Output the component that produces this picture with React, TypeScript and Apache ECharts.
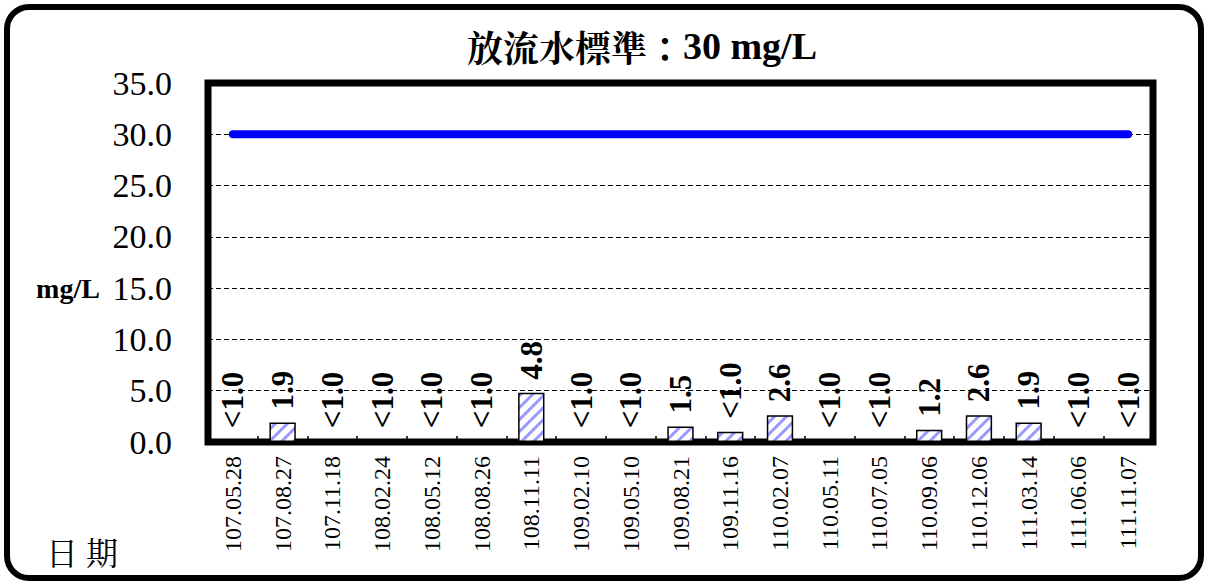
import React, { useEffect, useRef } from "react";
import * as echarts from "echarts";

const categories = ["107.05.28","107.08.27","107.11.18","108.02.24","108.05.12","108.08.26","108.11.11","109.02.10","109.05.10","109.08.21","109.11.16","110.02.07","110.05.11","110.07.05","110.09.06","110.12.06","111.03.14","111.06.06","111.11.07"];
const values = [0, 1.9, 0, 0, 0, 0, 4.8, 0, 0, 1.5, 1.0, 2.6, 0, 0, 1.2, 2.6, 1.9, 0, 0];
const valueLabels = ["<1.0","1.9","<1.0","<1.0","<1.0","<1.0","4.8","<1.0","<1.0","1.5","<1.0","2.6","<1.0","<1.0","1.2","2.6","1.9","<1.0","<1.0"];
const standard = 30;
const standardLine = categories.map(() => standard);
const yMin = 0;
const yMax = 35;
const yInterval = 5;

const SERIF = "'Liberation Serif', 'Times New Roman', serif";
const CJK = "'Noto Serif CJK TC', 'Noto Sans CJK TC', 'Noto Sans CJK SC', sans-serif";

function makeHatch(): string {
  const size = 12;
  const c = document.createElement("canvas");
  c.width = size;
  c.height = size;
  const ctx = c.getContext("2d");
  if (!ctx) return "";
  ctx.fillStyle = "#ffffff";
  ctx.fillRect(0, 0, size, size);
  for (let x = 0; x < size; x++) {
    for (let y = 0; y < size; y++) {
      const k = (x + y) % size;
      if (k < 5) {
        ctx.fillStyle = k === 0 || k === 4 ? "#c4c4ff" : "#9898ff";
        ctx.fillRect(x, y, 1, 1);
      }
    }
  }
  return c.toDataURL();
}

export default function App() {
  const ref = useRef<HTMLDivElement>(null);
  useEffect(() => {
    if (!ref.current) return;
    const chart = echarts.init(ref.current, null, { renderer: "svg" });
    const hatch = makeHatch();
    chart.setOption({
      animation: false,
      backgroundColor: "#fff",
      grid: {
        left: 208, right: 55, top: 83, bottom: 143,
        show: true, borderWidth: 7, borderColor: "#000", backgroundColor: "transparent",
      },
      xAxis: {
        type: "category",
        data: categories,
        axisLine: { show: false },
        axisTick: { show: true, inside: true, length: 6, lineStyle: { color: "#000", width: 1.5 } },
        axisLabel: { interval: 0, rotate: 90, fontFamily: SERIF, fontSize: 24, color: "#000", margin: 14 },
      },
      yAxis: {
        type: "value",
        min: yMin, max: yMax, interval: yInterval,
        axisLine: { show: false },
        axisTick: { show: false },
        axisLabel: { fontFamily: SERIF, fontSize: 34, color: "#000", margin: 36, formatter: (v: number) => v.toFixed(1) },
        splitLine: { show: true, lineStyle: { color: "#000", type: [5, 3], width: 1 } },
      },
      series: [
        {
          type: "bar",
          data: values,
          barWidth: "53%",
          itemStyle: {
            color: { image: hatch, repeat: "repeat" },
            borderColor: "#000",
            borderWidth: 1.5,
          },
          label: {
            show: true,
            position: "top",
            rotate: 90,
            align: "left",
            verticalAlign: "middle",
            distance: 13,
            fontFamily: SERIF,
            fontWeight: "bold",
            fontSize: 31,
            color: "#000",
            formatter: (p: any) => valueLabels[p.dataIndex],
          },
          z: 2,
        },
        {
          type: "line",
          data: standardLine,
          symbol: "none",
          lineStyle: { color: "#0000ff", width: 8, cap: "round" },
          z: 3,
        },
      ],
      graphic: [
        {
          type: "rect",
          shape: { x: 7, y: 7, width: 1194, height: 571, r: 22 },
          style: { fill: "none", stroke: "#000", lineWidth: 6 },
          z: 10,
        },
        {
          type: "text",
          x: 642, y: 46,
          style: {
            text: "{c|放流水標準：}{e|30 mg/L}",
            align: "center",
            verticalAlign: "middle",
            rich: {
              c: { fontFamily: CJK, fontSize: 36, fontWeight: "bold", fill: "#000" },
              e: { fontFamily: SERIF, fontSize: 38, fontWeight: "bold", fill: "#000" },
            },
          },
        },
        {
          type: "text",
          x: 68, y: 288,
          style: { text: "mg/L", align: "center", verticalAlign: "middle", fontFamily: SERIF, fontSize: 28, fontWeight: "bold", fill: "#000" },
        },
        {
          type: "text",
          x: 82, y: 551,
          style: { text: "日 期", align: "center", verticalAlign: "middle", fontFamily: CJK, fontSize: 32, fill: "#000" },
        },
      ],
    });
    return () => chart.dispose();
  }, []);
  return <div ref={ref} style={{ position: "absolute", left: 0, top: 0, width: 1208, height: 585 }} />;
}
